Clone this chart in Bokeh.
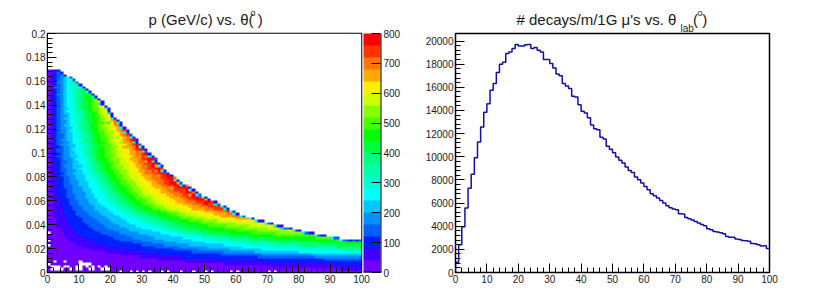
import numpy as np
from bokeh.embed import file_html
from bokeh.resources import INLINE
from bokeh.layouts import row
from bokeh.models import ColorBar, FixedTicker, Label, LinearColorMapper, Range1d
from bokeh.plotting import figure

FONT = "Liberation Sans"
palette = ["#7000ff", "#4000ff", "#0020ff", "#0060ff", "#0090ff", "#00c8ff", "#00ffff",
           "#00ffd0", "#00ffaa", "#00ff80", "#00ff40", "#00ff00", "#44ff00", "#88ff00",
           "#ccff00", "#ffee00", "#ffaa00", "#ff7700", "#ff3300", "#ff0000"]
LEVEL_NAMES = "abcdefghijklmnopqrst"
n_bins = 100
level_step = 40

# left panel: each row of the map, top (p=0.171) to bottom (p=0.001)
row_edges = [0, 4, 5, 6, 8, 9, 10, 11, 12, 13, 14, 15, 16, 17, 18, 18, 19, 20, 20, 21, 21, 22, 23, 24,
             24, 25, 26, 26, 27, 28, 29, 29, 30, 31, 32, 32, 33, 34, 35, 35, 36, 37, 37, 38, 39, 40,
             41, 42, 43, 44, 46, 47, 48, 49, 51, 52, 54, 55, 57, 58, 60, 61, 63, 66, 69, 72, 75, 78,
             81, 85, 89, 93, 100, 100, 100, 100, 100, 100, 100, 100, 100, 100, 100, 100, 100, 100]
row_tails = ["", "", "c", "c", "d", "d", "d", "c", "gc", "c", "gc", "c", "ic", "c", "c", "gb", "c", "gc",
             "c", "ib", "c", "gc", "c", "hc", "c", "gb", "c", "hc", "d", "gc", "c", "ic", "d", "gc", "c",
             "hd", "c", "gc", "d", "hc", "c", "gc", "d", "hc", "c", "gc", "c", "gc", "d", "hc", "c", "gb",
             "hc", "gd", "ic", "hc", "gc", "hd", "gc", "ic", "hc", "gc", "hd", "gc", "hcb", "gdc", "icb",
             "hddb", "hcb", "gdcb", "hdcb", "gdd", "gddcdcd", "", "", "", "", "", "", "", "", "", "", "", "", ""]
row_starts = [
    [], [1, 3], [1, 2, 3], [1, 2, 3, 4], [1, 2, 3, 4, 5, 6], [1, 2, 3, 4, 5, 6, 7],
    [1, 2, 3, 3, 5, 6, 7, 8], [1, 2, 3, 4, 5, 6, 7, 9], [1, 2, 2, 4, 5, 6, 7, 9, 10],
    [1, 2, 3, 4, 5, 6, 7, 8, 10, 11], [1, 2, 3, 4, 5, 6, 8, 9, 10, 11, 12],
    [1, 2, 3, 3, 5, 6, 7, 8, 10, 11, 12, 13], [1, 1, 3, 4, 5, 6, 7, 9, 10, 11, 12, 14],
    [1, 2, 3, 4, 5, 6, 8, 9, 10, 11, 13, 14, 15], [1, 2, 3, 4, 5, 6, 7, 9, 10, 11, 12, 14, 15, 16],
    [1, 2, 3, 4, 5, 6, 8, 9, 10, 11, 13, 14, 15], [1, 2, 3, 4, 5, 6, 7, 9, 10, 11, 12, 14, 15, 16, 17],
    [1, 2, 3, 4, 5, 7, 8, 9, 10, 11, 13, 14, 16, 17], [1, 2, 3, 4, 5, 6, 8, 9, 11, 12, 13, 14, 16, 17, 18],
    [1, 2, 3, 4, 5, 7, 8, 10, 11, 12, 14, 15, 16, 17, 18], [1, 2, 3, 4, 6, 7, 9, 10, 11, 12, 14, 15, 17, 18, 19, 20],
    [1, 2, 3, 4, 5, 7, 8, 10, 11, 12, 14, 16, 17, 18, 19], [1, 2, 3, 4, 6, 7, 8, 10, 11, 13, 14, 16, 17, 18, 19, 20, 21],
    [1, 2, 3, 4, 6, 7, 9, 10, 11, 13, 15, 16, 18, 19, 20, 21, 21], [1, 2, 3, 4, 5, 7, 9, 10, 11, 12, 14, 15, 17, 18, 20, 21, 22],
    [1, 2, 3, 4, 6, 8, 9, 10, 12, 13, 14, 16, 17, 19, 21, 22, 23], [1, 2, 3, 4, 6, 7, 9, 10, 12, 13, 15, 16, 18, 19, 21, 22, 23, 24],
    [1, 2, 3, 4, 6, 8, 9, 11, 12, 13, 15, 16, 18, 20, 21, 23, 24], [1, 2, 3, 5, 6, 8, 10, 11, 12, 14, 15, 17, 18, 20, 22, 23, 24, 25],
    [1, 2, 3, 5, 6, 8, 10, 11, 13, 14, 16, 17, 19, 21, 22, 24, 25, 26], [1, 2, 3, 4, 6, 8, 10, 11, 12, 14, 15, 17, 19, 20, 22, 24, 25, 26, 27],
    [1, 2, 3, 5, 7, 8, 10, 11, 13, 14, 16, 18, 19, 21, 23, 24, 26, 27], [1, 2, 3, 4, 6, 9, 10, 12, 13, 15, 16, 17, 20, 21, 23, 25, 26, 27, 28],
    [1, 2, 4, 5, 7, 9, 11, 12, 13, 14, 17, 18, 20, 22, 24, 25, 27, 28, 28], [1, 2, 3, 5, 7, 8, 10, 12, 14, 15, 16, 18, 20, 22, 23, 26, 27, 28, 29],
    [1, 2, 3, 5, 7, 9, 11, 12, 13, 15, 16, 18, 20, 22, 24, 26, 28, 30, 30], [1, 2, 4, 5, 7, 9, 11, 12, 13, 15, 16, 18, 20, 22, 24, 26, 28, 30, 31],
    [1, 2, 3, 5, 7, 10, 11, 13, 14, 15, 17, 18, 21, 22, 24, 27, 28, 29, 31], [1, 2, 4, 5, 8, 9, 12, 13, 14, 15, 16, 19, 20, 23, 25, 26, 29, 30, 32],
    [1, 2, 4, 6, 8, 10, 12, 13, 14, 16, 17, 19, 21, 23, 25, 27, 29, 31, 32], [1, 3, 4, 6, 8, 10, 12, 13, 15, 16, 18, 20, 22, 23, 25, 28, 29, 31, 33],
    [1, 2, 4, 5, 8, 11, 12, 14, 15, 17, 18, 20, 21, 24, 26, 28, 30, 32, 33], [1, 2, 4, 6, 8, 10, 13, 14, 15, 16, 18, 20, 22, 24, 26, 29, 30, 32, 34],
    [1, 3, 4, 6, 9, 11, 13, 14, 16, 17, 19, 21, 23, 25, 27, 29, 31, 33, 35], [1, 3, 5, 6, 8, 11, 13, 15, 16, 18, 19, 21, 23, 25, 27, 30, 31, 34, 36],
    [1, 2, 4, 6, 9, 12, 14, 15, 17, 18, 20, 22, 24, 25, 28, 30, 33, 35, 37], [1, 3, 5, 7, 9, 12, 14, 16, 17, 19, 20, 22, 24, 26, 29, 31, 33, 36, 38],
    [1, 3, 5, 7, 10, 12, 15, 16, 18, 19, 21, 23, 25, 27, 29, 32, 34, 37, 39], [1, 3, 5, 7, 10, 13, 15, 17, 18, 20, 22, 23, 25, 28, 30, 33, 35, 37, 39],
    [1, 3, 5, 8, 10, 13, 16, 17, 19, 20, 22, 24, 26, 28, 31, 33, 36, 38, 40], [1, 3, 5, 8, 11, 13, 16, 18, 19, 21, 23, 25, 27, 29, 31, 34, 37, 39, 41],
    [1, 3, 6, 8, 11, 14, 17, 18, 20, 21, 23, 25, 27, 30, 32, 36, 38, 40, 43], [1, 3, 6, 8, 12, 14, 17, 19, 20, 22, 24, 26, 28, 30, 33, 36, 39, 42, 44],
    [2, 3, 6, 9, 12, 15, 18, 19, 21, 23, 25, 27, 29, 31, 34, 38, 40, 43, 45], [1, 3, 6, 9, 12, 15, 18, 20, 22, 24, 25, 28, 30, 33, 35, 39, 42, 44, 46],
    [2, 4, 7, 9, 13, 16, 18, 20, 22, 25, 26, 28, 31, 33, 36, 40, 43, 45, 47], [2, 4, 7, 10, 13, 16, 19, 21, 23, 25, 27, 30, 32, 34, 37, 41, 44, 47, 50],
    [2, 4, 7, 10, 14, 17, 20, 22, 24, 26, 28, 30, 33, 35, 39, 43, 46, 49], [2, 4, 8, 11, 15, 18, 21, 23, 25, 27, 30, 32, 34, 37, 40, 45, 48, 51],
    [2, 5, 8, 11, 15, 19, 22, 24, 26, 28, 31, 33, 36, 38, 42, 46, 50, 53], [2, 5, 9, 12, 16, 20, 23, 26, 28, 30, 33, 36, 39, 42, 46, 50, 54, 57],
    [2, 5, 9, 13, 17, 21, 25, 27, 29, 32, 35, 38, 41, 44, 48, 53, 57], [2, 6, 10, 14, 18, 23, 26, 29, 31, 34, 37, 40, 43, 47, 51, 55, 59],
    [3, 6, 11, 15, 19, 24, 28, 30, 33, 36, 39, 42, 46, 50, 55, 60], [3, 6, 11, 16, 20, 25, 29, 32, 35, 38, 42, 45, 49, 54, 60],
    [3, 7, 12, 17, 21, 26, 31, 34, 37, 40, 44, 48, 53, 60, 66], [3, 7, 13, 18, 23, 28, 33, 36, 39, 42, 47, 51, 57, 64, 70],
    [4, 8, 14, 19, 25, 30, 36, 38, 41, 44, 50, 56, 62, 70], [4, 9, 15, 21, 26, 33, 38, 40, 44, 48, 53, 60, 67, 76],
    [5, 9, 17, 23, 29, 36, 41, 43, 47, 51, 58, 65, 73], [5, 10, 19, 25, 32, 39, 45, 49, 53, 57, 65, 72],
    [6, 12, 21, 27, 34, 43, 49, 54, 58, 64, 72, 85], [7, 14, 23, 30, 37, 46, 53, 59, 64, 70, 80, 92],
    [8, 15, 27, 33, 41, 50, 58, 65, 73, 85, 95], [9, 18, 30, 37, 45, 56, 64, 72, 81, 92],
    [11, 20, 34, 42, 51, 62, 71, 81, 92], [14, 25, 40, 48, 58, 68, 80, 91],
    [18, 30, 46, 56, 66, 80, 95], [23, 36, 55, 68, 84, 100], [29, 43, 67, 85], [35, 54, 88],
    [44, 70], [56, 92], [71], [93], [],
]
# single cells that stand out from their neighbours
speck_rows = [52, 52, 50, 50, 48, 48, 47, 46, 45, 44, 44, 43, 42, 41, 40, 40, 39, 38, 37, 36,
              36, 35, 34, 33, 32, 31, 30, 30, 29, 28, 60, 58, 56, 54, 66, 62, 70, 45, 35, 25]
speck_cols = [24, 27, 26, 29, 29, 31, 27, 31, 33, 31, 34, 36, 34, 37, 35, 38, 40, 37, 41, 44,
              40, 39, 43, 46, 45, 48, 44, 50, 52, 50, 18, 20, 22, 23, 15, 19, 12, 25, 33, 45]
speck_levels = "qrqrqrqqtrqsrsqtrsqrtqsrqsrqstnnnnlmjopo"
empty_rows = [16, 13, 11, 4, 4, 4, 3, 3, 3, 3, 3, 2, 2, 2, 2, 2, 2, 2, 2, 2, 2, 2,
              1, 1, 1, 1, 1, 1, 1, 1, 1, 1, 1, 1, 0, 0, 0, 0, 0, 0, 0, 0, 0, 0, 0, 0, 0, 0, 0]
empty_cols = [0, 0, 0, 2, 5, 10, 0, 10, 11, 12, 13, 1, 2, 3, 5, 6, 9, 10, 12, 14, 16, 18,
              1, 2, 3, 4, 7, 9, 10, 13, 14, 17, 18, 19, 23, 26, 28, 30, 32, 36, 38, 42, 46, 50, 52, 58, 60, 70, 72]

# right panel
decays = [890, 2395, 3950, 5565, 7270, 8480, 9920, 11270, 12570, 13840,
          14590, 15740, 16320, 17270, 17990, 18165, 18915, 19060, 19350, 19695,
          19580, 19580, 19670, 19695, 19350, 19430, 19200, 19060, 18400, 18400,
          18050, 17670, 17150, 17010, 16320, 16115, 15890, 15220, 15165, 14500,
          13930, 13780, 13380, 12740, 12430, 12340, 11680, 11530, 10900, 10640,
          10350, 9970, 9690, 9457, 9110, 8820, 8650, 8245, 8015, 7725,
          7440, 7150, 6805, 6635, 6430, 6230, 5995, 5770, 5595, 5480,
          5420, 5075, 5050, 4760, 4640, 4527, 4410, 4268, 4150, 4035,
          3776, 3690, 3546, 3490, 3430, 3345, 3115, 3055, 3055, 2885,
          2855, 2770, 2740, 2710, 2510, 2480, 2395, 2280, 2310, 2076]
x_ticks = [0, 10, 20, 30, 40, 50, 60, 70, 80, 90, 100]
left_ticks = [0, 0.02, 0.04, 0.06, 0.08, 0.1, 0.12, 0.14, 0.16, 0.18, 0.2]
left_labels = ["0", "0.02", "0.04", "0.06", "0.08", "0.1", "0.12", "0.14", "0.16", "0.18", "0.2"]
right_ticks = [0, 2000, 4000, 6000, 8000, 10000, 12000, 14000, 16000, 18000, 20000]
bar_ticks = [0, 100, 200, 300, 400, 500, 600, 700, 800]

grid = np.full((n_bins, n_bins), np.nan)
for i, (edge, tail, starts) in enumerate(zip(row_edges, row_tails, row_starts)):
    j = len(row_edges) - 1 - i
    for col in range(edge):
        grid[j, col] = sum(1 for s in starts if s <= col)
    for k, ch in enumerate(tail):
        grid[j, edge - len(tail) + k] = LEVEL_NAMES.index(ch)
for r, c, ch in zip(speck_rows, speck_cols, speck_levels):
    grid[r, c] = LEVEL_NAMES.index(ch)
for r, c in zip(empty_rows, empty_cols):
    grid[r, c] = np.nan
grid = grid * level_step + level_step / 2

mapper = LinearColorMapper(palette=palette, low=0, high=800, nan_color="#ffffff")
black_map = LinearColorMapper(palette=["#000000"], low=0, high=1)
TEXT = "#1a1a1a"


def style(p, yticks, yminor, ylabels=None):
    p.xaxis.ticker = FixedTicker(ticks=x_ticks, minor_ticks=list(range(0, 101, 2)))
    p.yaxis.ticker = FixedTicker(ticks=yticks, minor_ticks=yminor)
    if ylabels:
        p.yaxis.major_label_overrides = dict(zip(yticks, ylabels))
    for ax in (p.xaxis[0], p.yaxis[0]):
        ax.major_tick_in = 9
        ax.major_tick_out = 0
        ax.minor_tick_in = 5
        ax.minor_tick_out = 0
        ax.major_tick_line_color = "black"
        ax.minor_tick_line_color = "black"
        ax.axis_line_color = "black"
        ax.major_label_text_font = FONT
        ax.major_label_text_font_size = "10px"
        ax.major_label_text_color = TEXT
        ax.major_label_standoff = 2
    p.grid.visible = False
    p.outline_line_color = "black"
    p.outline_line_width = 1.5
    p.background_fill_color = "white"
    p.border_fill_color = "white"


def title_piece(p, side, x, y, s, size):
    p.add_layout(Label(x=x, y=y, x_units="screen", y_units="screen", text=s,
                       text_font=FONT, text_font_size=size, text_color=TEXT,
                       text_baseline="alphabetic"), side)


def thin_bar(p, x, width, height):
    p.add_layout(ColorBar(color_mapper=black_map, location=(x, 0), width=width, height=height,
                          padding=0, margin=0, ticker=FixedTicker(ticks=[]), major_tick_line_color=None,
                          minor_tick_line_color=None, bar_line_color=None, border_line_color=None,
                          background_fill_color=None, major_label_text_font_size="0px"), "center")


p1 = figure(width=408, height=306, frame_width=314, frame_height=239,
            x_range=Range1d(0, 100), y_range=Range1d(0, 0.2),
            min_border_left=47, min_border_right=47, min_border_top=33, min_border_bottom=34,
            output_backend="svg", toolbar_location=None)
p1.image(image=[grid], x=0, y=0, dw=100, dh=0.2, color_mapper=mapper)
style(p1, left_ticks, [round(i * 0.004, 3) for i in range(51)], left_labels)
p1.add_layout(ColorBar(color_mapper=mapper, location=(316, 0), width=17, height=239, padding=0, margin=0,
                       ticker=FixedTicker(ticks=bar_ticks), major_tick_in=9,
                       major_tick_line_color="black", bar_line_color=None, border_line_color=None,
                       background_fill_color=None, label_standoff=3,
                       major_label_text_font=FONT, major_label_text_font_size="10px",
                       major_label_text_color=TEXT, minor_tick_line_color=None), "center")
thin_bar(p1, 333, 1, 239)
thin_bar(p1, 316, 18, 1)
title_piece(p1, "above", 101, 14, "p (GeV/c) vs. θ(\u00a0)", "15px")
title_piece(p1, "right", -111, 260, "o", "9px")

p2 = figure(width=409, height=306, frame_width=314, frame_height=239,
            x_range=Range1d(0, 100), y_range=Range1d(0, 20650),
            min_border_left=47, min_border_right=48, min_border_top=33, min_border_bottom=34,
            output_backend="svg", toolbar_location=None)
theta_edges = list(range(n_bins + 1))
p2.step(x=[0] + theta_edges, y=[0] + decays + [decays[-1]], mode="after",
        line_color="#1010a8", line_width=1.5)
style(p2, right_ticks, list(range(0, 20001, 400)))
title_piece(p2, "above", 61, 14, "# decays/m/1G μ's vs. θ\u00a0\u00a0\u00a0\u00a0(\u00a0)", "15px")
title_piece(p2, "right", -89, 244, "lab", "10px")
title_piece(p2, "right", -85, 260, "o", "9px")

open("out.html", "w").write(file_html(row(p1, p2), INLINE))
